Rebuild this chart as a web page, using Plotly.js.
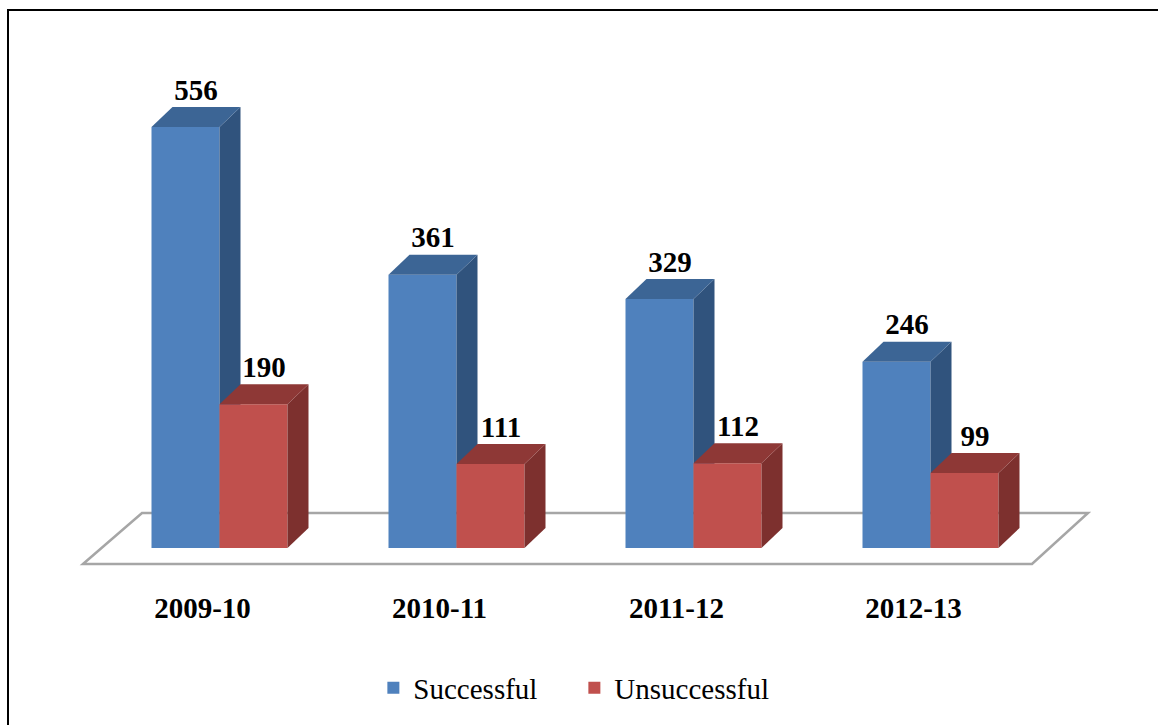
<!DOCTYPE html>
<html>
<head>
<meta charset="utf-8">
<script src="https://cdn.plot.ly/plotly-3.0.1.min.js"></script>
<style>html,body{margin:0;padding:0;background:#fff;}#chart{width:1158px;height:725px;}</style>
</head>
<body>
<div id="chart"></div>
<script>
// ---- data ----
const categories = ['2009-10', '2010-11', '2011-12', '2012-13'];
const successful = [556, 361, 329, 246];
const unsuccessful = [190, 111, 112, 99];
const seriesNames = ['Successful', 'Unsuccessful'];

// ---- layout / styling constants ----
const W = 1158, H = 725;
const plotBottom = 588;            // pixel y of bottom of plot area
const zeroPx = 548;                // pixel y of value 0
const k = 0.7572;                  // px per unit
const groupStart = 219.5, groupStep = 237;  // x of group middles (axis units = px)
const barW = 68;
const depthX = 21, depthY = 20 / k; // 3D depth offset
const colors = {
  front: ['#4F81BD', '#C0504D'],
  side:  ['#30537D', '#7D302E'],
  top:   ['#3C6595', '#8E3836']
};
const font = 'Liberation Serif';

const series = [successful, unsuccessful];
const traces = [];

categories.forEach((cat, i) => {
  const mid = groupStart + i * groupStep;
  series.forEach((vals, s) => {
    const v = vals[i];
    const xl = s === 0 ? mid - barW : mid;
    const xr = xl + barW;
    // front face
    traces.push({type: 'scatter', mode: 'none', fill: 'toself', fillcolor: colors.front[s],
      x: [xl, xr, xr, xl, xl], y: [0, 0, v, v, 0], showlegend: false, hoverinfo: 'skip'});
    // side face
    traces.push({type: 'scatter', mode: 'none', fill: 'toself', fillcolor: colors.side[s],
      x: [xr, xr + depthX, xr + depthX, xr, xr], y: [0, depthY, v + depthY, v, 0], showlegend: false, hoverinfo: 'skip'});
    // top face
    traces.push({type: 'scatter', mode: 'none', fill: 'toself', fillcolor: colors.top[s],
      x: [xl, xr, xr + depthX, xl + depthX, xl], y: [v, v, v + depthY, v + depthY, v], showlegend: false, hoverinfo: 'skip'});
  });
});

// value labels
series.forEach((vals, s) => {
  traces.push({type: 'scatter', mode: 'text',
    x: categories.map((c, i) => groupStart + i * groupStep + (s === 0 ? -barW / 2 : barW / 2) + depthX / 2),
    y: vals.map(v => v + depthY),
    text: vals.map(String), textposition: 'top center',
    textfont: {family: font, size: 29, color: '#000', weight: 'bold'},
    cliponaxis: false, showlegend: false, hoverinfo: 'skip'});
});

// legend entries
series.forEach((vals, s) => {
  traces.push({type: 'bar', x: [null], y: [null], name: seriesNames[s], marker: {color: colors.front[s]}, showlegend: true});
});

const tickvals = categories.map((c, i) => groupStart + i * groupStep - 17);

const floorBack = (zeroPx - 513) / k, floorFront = (zeroPx - 564) / k;

const layout = {
  width: W, height: H,
  margin: {l: 0, r: 0, t: 0, b: H - plotBottom},
  paper_bgcolor: '#fff', plot_bgcolor: 'rgba(0,0,0,0)',
  showlegend: true,
  xaxis: {range: [0, W], showgrid: false, zeroline: false, showline: false, ticks: '',
    tickmode: 'array', tickvals: tickvals, ticktext: categories,
    tickfont: {family: font, size: 29, color: '#000', weight: 'bold'}, fixedrange: true},
  yaxis: {range: [(zeroPx - plotBottom) / k, zeroPx / k], visible: false, fixedrange: true},
  legend: {orientation: 'h', x: 0.496, xanchor: 'center', y: (plotBottom - 688) / plotBottom, yanchor: 'middle',
    font: {family: font, size: 29, color: '#000'}, bgcolor: 'rgba(0,0,0,0)', entrywidth: 156},
  shapes: [
    {type: 'path', xref: 'x', yref: 'y', layer: 'below',
      path: `M 83,${floorFront} L 142,${floorBack} L 1088,${floorBack} L 1032,${floorFront} Z`,
      line: {color: '#A6A6A6', width: 2.5}, fillcolor: '#FFFFFF'},
    {type: 'rect', xref: 'paper', yref: 'paper', layer: 'above',
      x0: 8 / W, x1: 1.004, y0: (plotBottom - 735) / plotBottom, y1: 1 - 10 / plotBottom,
      line: {color: '#000', width: 2}}
  ]
};

Plotly.newPlot('chart', traces, layout, {displayModeBar: false, staticPlot: true});
</script>
</body>
</html>
